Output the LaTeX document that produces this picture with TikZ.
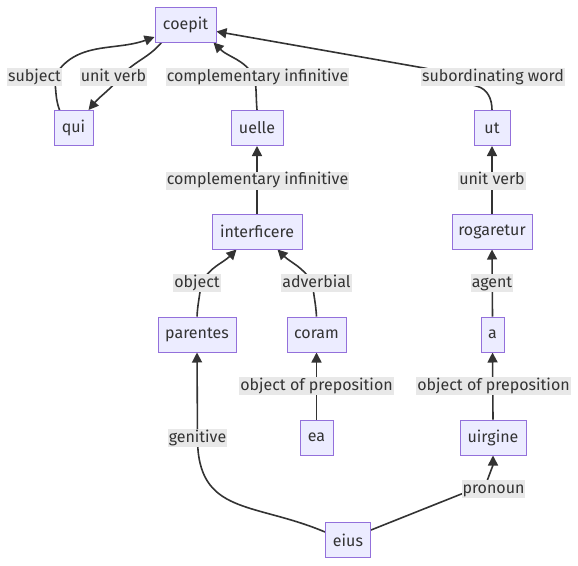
\documentclass[tikz,border=0pt]{standalone}
\usepackage{fontspec}
\setmainfont{Fira Sans}
\usetikzlibrary{arrows.meta,calc,backgrounds}
\definecolor{nfill}{HTML}{ECECFF}
\definecolor{ndraw}{HTML}{9370DB}
\definecolor{ink}{HTML}{333333}
\definecolor{lbg}{HTML}{E8E8E8}
\begin{document}
\begin{tikzpicture}[x=1pt,y=1pt,
  box/.style={draw=ndraw,fill=nfill,line width=1pt,minimum height=35pt,inner sep=0pt,text=ink,font=\fontsize{16}{19}\selectfont},
  lab/.style={fill=lbg,inner xsep=1pt,inner ysep=1pt,text height=12pt,text depth=4pt,text=ink,font=\fontsize{16}{19}\selectfont},
  conn/.style={draw=ink,line width=1.6pt,-{Triangle[length=10pt,width=10pt]}}]
\useasboundingbox (0,0) rectangle (578,-565);
% boxes
\node[box,minimum width=61pt] (coepit) at (185.5,-24.5) {coepit};
\node[box,minimum width=39pt] (qui) at (73.5,-128) {qui};
\node[box,minimum width=52pt] (uelle) at (257,-128) {uelle};
\node[box,minimum width=36pt] (ut) at (492,-128) {ut};
\node[box,minimum width=90pt] (interficere) at (257,-231.5) {interficere};
\node[box,minimum width=80pt] (rogaretur) at (492,-231.5) {rogaretur};
\node[box,minimum width=78pt] (parentes) at (197,-334.5) {parentes};
\node[box,minimum width=59pt] (coram) at (316.5,-334.5) {coram};
\node[box,minimum width=23pt] (a) at (492.5,-334.5) {a};
\node[box,minimum width=33pt] (ea) at (316.5,-437.5) {ea};
\node[box,minimum width=66pt] (uirgine) at (493,-437.5) {uirgine};
\node[box,minimum width=45pt] (eius) at (348,-540) {eius};
% labels
\node[lab] (subj) at (34.5,-77) {subject};
\node[lab] (uv1) at (113.5,-77) {unit verb};
\node[lab] (ci1) at (257.5,-77) {complementary infinitive};
\node[lab] (sw) at (493,-77) {subordinating word};
\node[lab] (ci2) at (257.5,-180.5) {complementary infinitive};
\node[lab] (uv2) at (492,-180.5) {unit verb};
\node[lab] (obj) at (197,-283) {object};
\node[lab] (adv) at (316.5,-283) {adverbial};
\node[lab] (agent) at (492,-283) {agent};
\node[lab] (op1) at (316.5,-386) {object of preposition};
\node[lab] (op2) at (493.5,-386) {object of preposition};
\node[lab] (gen) at (197.5,-438) {genitive};
\node[lab] (pron) at (493.5,-489) {pronoun};
% edges
\begin{scope}[on background layer]
\fill[white] (0,0) rectangle (578,-565);
\draw[conn] ($(qui.north west)+(6,0)$) to[out=110,in=-80] ($(subj.east)+(-8,0)$) to[out=60,in=200] ($(coepit.west)+(0,-12.5)$);
\draw[conn] ($(coepit.south west)+(7,0)$) to[out=-130,in=50] ($(uv1.center)+(7,0)$) to[out=-130,in=50] ($(qui.north east)+(-5,0)$);
\draw[conn] (uelle.north) to[out=95,in=-80] ($(ci1.center)+(-3,0)$) to[out=120,in=-45] ($(coepit.south east)+(-3,0)$);
\draw[conn] (ut.north) to[out=90,in=-15] ($(sw.south)+(-16,0)$) to[out=165,in=-10] ($(sw.north west)+(2,0)$) -- ($(coepit.east)+(0,-7)$);
\draw[conn] (interficere.north) -- (uelle.south);
\draw[conn] (rogaretur.north) -- (ut.south);
\draw[conn] (parentes.north) to[out=87,in=-95] ($(obj.center)+(4,0)$) to[out=60,in=-135] ($(interficere.south west)+(25,0)$);
\draw[conn] (coram.north) to[out=93,in=-85] ($(adv.center)+(-4,0)$) to[out=120,in=-45] ($(interficere.south east)+(-25,0)$);
\draw[conn] (a.north) -- (rogaretur.south);
\draw[conn] (ea.north) -- (coram.south);
\draw[conn] (uirgine.north) -- (a.south);
\draw[conn] ($(eius.west)+(0,8)$) to[out=157,in=-90,looseness=1.25] (gen.center) -- (parentes.south);
\draw[conn] ($(eius.east)+(0,10)$) -- ($(pron.west)+(0,-5)$) to[out=21,in=-110] ($(pron.north)+(-6,0)$) to[out=70,in=-90] (uirgine.south);
\end{scope}
\end{tikzpicture}
\end{document}
